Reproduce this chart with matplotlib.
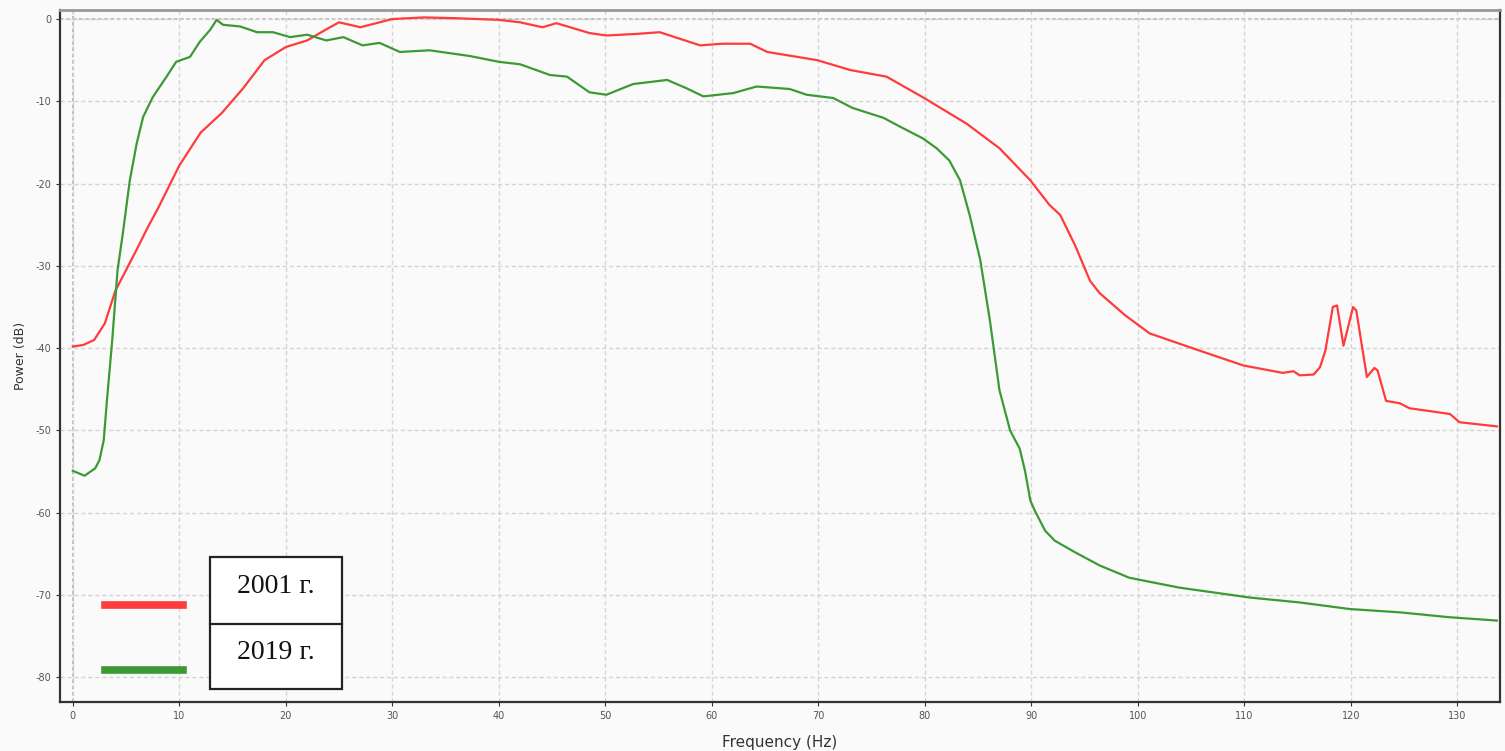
import matplotlib
matplotlib.use("Agg")
import matplotlib.pyplot as plt
from matplotlib.lines import Line2D
from matplotlib.patches import Rectangle

plt.rcParams["axes.unicode_minus"] = False

# 2001 spectrum (red)
f_2001 = [0, 1, 2, 3, 4, 5, 6, 7, 8, 10, 12, 14, 16, 18, 20, 22, 24, 25, 27,
          30, 33, 36, 40, 42, 44.1, 45.4, 48.5, 50.1, 53, 55.1, 58.9, 61, 63.6,
          65.2, 69.9, 73, 76.4, 79.8, 83.9, 87, 89.9, 91.7, 92.7, 94.1, 95.5,
          96.4, 98.8, 101.1, 105.8, 109.9, 113.6, 114.6, 115.2, 116.5, 117.1,
          117.6, 118.3, 118.7, 119.3, 120.2, 120.5, 121.5, 122.2, 122.5, 123.3,
          124.6, 125.5, 127.7, 129.3, 130.2, 133.7]
p_2001 = [-39.8, -39.6, -39.0, -37.0, -33.0, -30.5, -28.0, -25.4, -23.0, -17.8,
          -13.8, -11.4, -8.4, -5.0, -3.4, -2.6, -1.1, -0.4, -1.0,
          0.0, 0.2, 0.1, -0.1, -0.4, -1.0, -0.5, -1.7, -2.0, -1.8, -1.6, -3.2, -3.0, -3.0,
          -4.0, -5.0, -6.2, -7.0, -9.5, -12.7, -15.7, -19.6, -22.6, -23.8, -27.5, -31.8,
          -33.3, -36.0, -38.2, -40.3, -42.1, -43.0, -42.8, -43.3, -43.2, -42.3,
          -40.3, -35.0, -34.8, -39.7, -35.0, -35.4, -43.5, -42.4, -42.7, -46.4,
          -46.7, -47.3, -47.7, -48.0, -49.0, -49.5]

# 2019 spectrum (green)
f_2019 = [0, 1.1, 2.1, 2.5, 2.9, 3.2, 3.7, 4.2, 4.7, 5.35, 6.0, 6.6, 7.5, 8.8,
          9.7, 11.0, 11.9, 12.9, 13.5, 14.1, 15.7, 17.3, 18.8, 20.4, 22.0, 23.8,
          25.4, 27.2, 28.8, 30.7, 33.5, 37.3, 40.0, 42.0, 44.8, 46.4, 48.5, 50.1,
          52.6, 55.8, 57.6, 59.2, 62.0, 64.2, 67.3, 68.9, 71.4, 73.2, 76.1, 77.7,
          79.8, 81.1, 82.3, 83.3, 84.2, 85.2, 86.1, 87.0, 88.0, 88.9, 89.4, 89.9,
          90.3, 91.3, 92.2, 94.1, 96.4, 99.2, 103.9, 110.5, 115.2, 119.9, 124.6,
          129.3, 133.7]
p_2019 = [-54.9, -55.5, -54.6, -53.6, -51.2, -46.4, -39.0, -30.5, -26.0, -19.6,
          -15.1, -11.9, -9.5, -7.0, -5.2, -4.6, -2.8, -1.3, -0.1, -0.7, -0.9,
          -1.6, -1.6, -2.2, -1.9, -2.6, -2.2, -3.2, -2.9, -4.0, -3.8, -4.5, -5.2,
          -5.5, -6.8, -7.0, -8.9, -9.2, -7.9, -7.4, -8.4, -9.4, -9.0, -8.2, -8.5,
          -9.2, -9.6, -10.8, -12.0, -13.1, -14.5, -15.7, -17.2, -19.6, -23.8,
          -29.3, -36.6, -45.1, -50.0, -52.2, -54.9, -58.5, -59.7, -62.2, -63.4,
          -64.8, -66.4, -67.9, -69.1, -70.3, -70.9, -71.7, -72.1, -72.7, -73.1]

x_ticks = list(range(0, 131, 10))
y_ticks = list(range(-80, 1, 10))
labels = ["2001 г.", "2019 г."]
colors = ["#ff3b3b", "#3c9a35"]

fig = plt.figure(figsize=(15.05, 7.51), dpi=100, facecolor="#fafafa")
ax = fig.add_axes([0.0399, 0.0652, 0.9568, 0.9215], facecolor="#fafafa")

ax.plot(f_2001, p_2001, color=colors[0], lw=1.6)
ax.plot(f_2019, p_2019, color=colors[1], lw=1.6)

ax.set_xlim(-1.2, 134.0)
ax.set_ylim(-83.0, 1.1)
ax.set_xticks(x_ticks)
ax.set_yticks(y_ticks)
ax.grid(True, color="#d4d4d4", ls=(0, (3, 2)), lw=1.0)
ax.axhline(0, color="#b8b8b8", ls=(0, (2, 1.5)), lw=1.3, zorder=1)
ax.axvline(0, color="#b8b8b8", ls=(0, (2, 1.5)), lw=1.3, zorder=1)

for side in ["left", "bottom", "right"]:
    ax.spines[side].set_color("#333333")
    ax.spines[side].set_linewidth(1.6)
ax.spines["top"].set_color("#999999")
ax.spines["top"].set_linewidth(2.0)
ax.tick_params(labelsize=7, colors="#333333", length=3, width=0.8,
               labelcolor="#555555")
ax.set_xlabel("Frequency (Hz)", fontsize=11, color="#333333", labelpad=10)
ax.set_ylabel("Power (dB)", fontsize=9, color="#333333", labelpad=6)

# hand-drawn legend: colour bars + boxed table of years
for col, yy in zip(colors, [0.1943, 0.1078]):
    fig.add_artist(Line2D([0.0698, 0.1216], [yy, yy], color=col, lw=5.5,
                          transform=fig.transFigure))
bx, bw = 0.1395, 0.0877
by, bh = 0.0826, 0.1758
fig.add_artist(Rectangle((bx, by), bw, bh, transform=fig.transFigure,
                         facecolor="white", edgecolor="#222222", lw=1.6))
mid = 0.1691
fig.add_artist(Line2D([bx, bx + bw], [mid, mid], color="#222222", lw=1.6,
                      transform=fig.transFigure))
fig.text(bx + bw / 2, 0.2187, labels[0], ha="center", va="center",
         fontsize=20, family=["Liberation Serif", "DejaVu Serif"], color="#111111")
fig.text(bx + bw / 2, 0.1305, labels[1], ha="center", va="center",
         fontsize=20, family=["Liberation Serif", "DejaVu Serif"], color="#111111")

fig.savefig("out.png", dpi=100, facecolor=fig.get_facecolor())
